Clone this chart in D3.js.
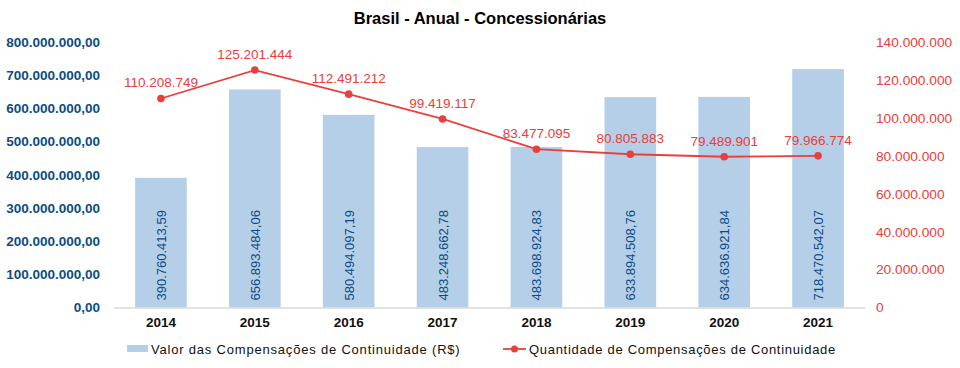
<!DOCTYPE html>
<html><head><meta charset="utf-8">
<script src="https://cdn.jsdelivr.net/npm/d3@7"></script>
<style>body{margin:0;background:#fff}svg{display:block;font-family:"Liberation Sans",Arial,sans-serif}</style>
</head><body><svg id="c" width="960" height="368"></svg>
<script>
const categories = ["2014","2015","2016","2017","2018","2019","2020","2021"];
const valores = [390760413.59, 656893484.06, 580494097.19, 483248662.78, 483698924.83, 633894508.76, 634636921.84, 718470542.07];
const quantidades = [110208749, 125201444, 112491212, 99419117, 83477095, 80805883, 79489901, 79966774];
const leftTicks = [0,100000000,200000000,300000000,400000000,500000000,600000000,700000000,800000000];
const rightTicks = [0,20000000,40000000,60000000,80000000,100000000,120000000,140000000];
const title = "Brasil - Anual - Concessionárias";
const legendBar = "Valor das Compensações de Continuidade (R$)";
const legendLine = "Quantidade de Compensações de Continuidade";

const svg = d3.select("#c");
const L = 114, R = 865, T = 42, B = 307.5;
const blue = "#0B4C86", red = "#E8403C", barCol = "#B4CFE7";
const fmt2 = v => { const [i,d] = v.toFixed(2).split("."); return i.replace(/\B(?=(\d{3})+(?!\d))/g,".")+","+d; };
const fmt0 = v => Math.round(v).toString().replace(/\B(?=(\d{3})+(?!\d))/g,".");

const x = d3.scaleBand().domain(categories).range([L,R]).paddingInner(0.45).paddingOuter(0.225);
const yL = d3.scaleLinear().domain([0,800000000]).range([B,T]);
const yR = d3.scaleLinear().domain([0,140000000]).range([B,T]);

svg.append("text").attr("x",480).attr("y",24).attr("text-anchor","middle")
  .attr("font-size",16.5).attr("font-weight","bold").attr("fill","#000").text(title);

// bars
svg.selectAll("rect.bar").data(categories).join("rect").attr("class","bar")
  .attr("x",d=>x(d)).attr("width",x.bandwidth())
  .attr("y",(d,i)=>yL(valores[i])).attr("height",(d,i)=>B-yL(valores[i]))
  .attr("fill",barCol);

// baseline
svg.append("line").attr("x1",L).attr("x2",R).attr("y1",B+0.5).attr("y2",B+0.5).attr("stroke","#d9d9d9").attr("stroke-width",1.5);

// left axis
const gl = svg.append("g").attr("transform",`translate(${L},0)`)
  .call(d3.axisLeft(yL).tickValues(leftTicks).tickFormat(fmt2).tickSize(0).tickPadding(14));
gl.select(".domain").remove();
gl.selectAll("text").attr("font-size",13.5).attr("font-weight","bold").attr("fill",blue).attr("font-family","Liberation Sans, Arial, sans-serif");

// right axis
const gr = svg.append("g").attr("transform",`translate(${R},0)`)
  .call(d3.axisRight(yR).tickValues(rightTicks).tickFormat(fmt0).tickSize(0).tickPadding(11));
gr.select(".domain").remove();
gr.selectAll("text").attr("font-size",13.7).attr("fill",red).attr("font-family","Liberation Sans, Arial, sans-serif");

// x axis
const gx = svg.append("g").attr("transform",`translate(0,${B})`)
  .call(d3.axisBottom(x).tickSize(0).tickPadding(10));
gx.select(".domain").remove();
gx.selectAll("text").attr("font-size",13.5).attr("font-weight","bold").attr("fill","#111").attr("font-family","Liberation Sans, Arial, sans-serif");

// bar labels
svg.selectAll("text.bl").data(categories).join("text").attr("class","bl")
  .attr("transform",d=>`translate(${x(d)+x.bandwidth()/2+5},${B-7}) rotate(-90)`)
  .attr("font-size",13).attr("fill",blue).attr("text-anchor","start")
  .text((d,i)=>fmt2(valores[i]));

// line
const cx = d => x(d)+x.bandwidth()/2;
svg.append("path").datum(categories)
  .attr("d",d3.line().x(cx).y((d,i)=>yR(quantidades[i])))
  .attr("fill","none").attr("stroke",red).attr("stroke-width",1.8);
svg.selectAll("circle.pt").data(categories).join("circle").attr("class","pt")
  .attr("cx",cx).attr("cy",(d,i)=>yR(quantidades[i])).attr("r",3.8).attr("fill",red);
svg.selectAll("text.pl").data(categories).join("text").attr("class","pl")
  .attr("x",cx).attr("y",(d,i)=>yR(quantidades[i])-11).attr("text-anchor","middle")
  .attr("font-size",13.5).attr("fill",red).text((d,i)=>fmt0(quantidades[i]));

// legend
svg.append("rect").attr("x",127).attr("y",345).attr("width",21).attr("height",7).attr("fill",barCol);
svg.append("text").attr("x",151).attr("y",354).attr("font-size",13).attr("letter-spacing",0.8).attr("fill","#111").text(legendBar);
svg.append("line").attr("x1",503).attr("x2",526).attr("y1",349).attr("y2",349).attr("stroke",red).attr("stroke-width",1.8);
svg.append("circle").attr("cx",514.5).attr("cy",349).attr("r",3.5).attr("fill",red);
svg.append("text").attr("x",529).attr("y",354).attr("font-size",13).attr("letter-spacing",0.7).attr("fill","#111").text(legendLine);
</script></body></html>
